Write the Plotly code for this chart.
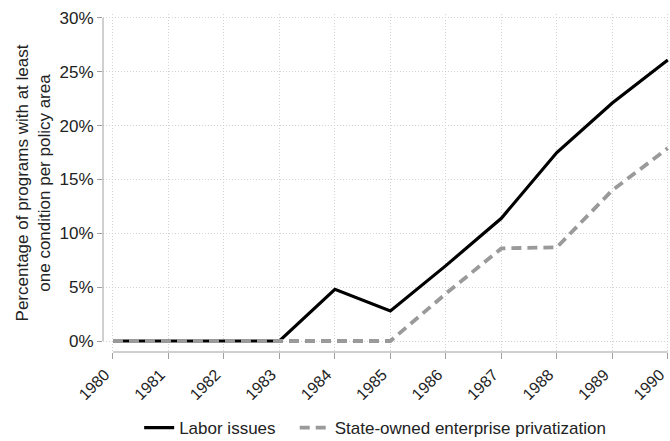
import plotly.graph_objects as go

years = list(range(1980, 1991))
labor = [0, 0, 0, 0, 4.8, 2.8, 7.0, 11.4, 17.5, 22.1, 26.1]
soe = [0, 0, 0, 0, 0, 0, 4.4, 8.6, 8.7, 14.0, 17.9]
y_ticks = [0, 5, 10, 15, 20, 25, 30]
y_labels = [f"{v}%" for v in y_ticks]
series_names = ["Labor issues", "State-owned enterprise privatization"]

FONT = "Liberation Sans, Arial, Helvetica, sans-serif"
PAD = "\u00a0" * 3

fig = go.Figure()
fig.add_trace(go.Scatter(x=years, y=labor, mode="lines", name=series_names[0] + PAD,
                         line=dict(color="black", width=3.2)))
fig.add_trace(go.Scatter(x=years, y=soe, mode="lines", name=series_names[1],
                         line=dict(color="#9a9a9a", width=3.8, dash="10px,6px")))

axis_col = "#a0a0a0"
grid_col = "#d2d2d2"
fig.update_layout(
    template="none",
    width=670, height=441,
    margin=dict(l=103, r=0, t=14, b=89),
    plot_bgcolor="white", paper_bgcolor="white",
    font=dict(family=FONT, size=17, color="#222222"),
    showlegend=True,
    legend=dict(orientation="h", x=0.48, xanchor="center", yref="container",
                y=1 - 428 / 441, yanchor="middle",
                font=dict(size=17), itemwidth=30, tracegroupgap=0,
                bgcolor="rgba(0,0,0,0)"),
    xaxis=dict(range=[1979.82, 1990.04], tickmode="array", tickvals=years,
               ticktext=[str(y) for y in years], tickangle=-45, automargin=False,
               ticklabeloverflow="allow", ticklabelshift=-8,
               showgrid=True, gridcolor=grid_col, griddash="1px,2px", gridwidth=1,
               zeroline=False, showline=False, ticks="outside", ticklen=6,
               tickcolor=axis_col, tickfont=dict(size=16)),
    yaxis=dict(range=[-1.02, 30.37], tickmode="array", tickvals=y_ticks, ticktext=y_labels,
               automargin=False,
               showgrid=True, gridcolor=grid_col, griddash="1px,2px", gridwidth=1,
               zeroline=False, showline=False, ticks="outside", ticklen=5,
               tickcolor=axis_col, tickfont=dict(size=17),
               title=dict(text="Percentage of programs with at least<br>one condition per policy area",
                          font=dict(size=17), standoff=4)),
    shapes=[
        dict(type="line", xref="paper", yref="y", x0=0, x1=0, y0=0, y1=30,
             line=dict(color=axis_col, width=1)),
        dict(type="line", xref="x", yref="paper", x0=1980, x1=1990, y0=0, y1=0,
             line=dict(color=axis_col, width=1)),
    ],
)
fig.write_html("out.html")
